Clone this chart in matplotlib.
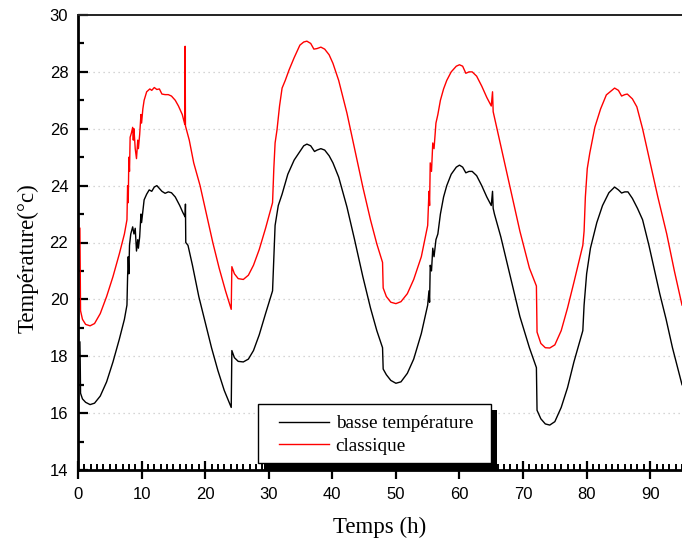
import matplotlib
matplotlib.use("Agg")
import matplotlib.pyplot as plt
from matplotlib.patches import Rectangle
from matplotlib.ticker import MultipleLocator

# =====================
# data
# =====================
t_basse = [0.3, 0.35, 0.4, 0.7, 1.2, 1.9, 2.6, 3.5, 4.5, 5.5, 6.5, 7.3, 7.7, 7.8, 7.9, 8.0, 8.1, 8.3, 8.6, 8.8,
           9.0, 9.2, 9.4, 9.5, 9.7, 9.9, 10.0, 10.2, 10.4, 10.8, 11.2, 11.6, 12.0, 12.4, 12.8, 13.2, 13.7, 14.2, 14.7, 15.3,
           16.0, 16.5, 16.85, 16.9, 16.95, 17.3, 18.0, 19.0, 20.0, 21.0, 22.0, 23.0, 24.1, 24.2, 24.6, 25.2, 26.0, 26.8, 27.6, 28.5,
           29.5, 30.6, 30.8, 31.0, 31.5, 32.1, 33.0, 34.0, 34.9, 35.5, 36.0, 36.6, 37.2, 37.6, 38.2, 38.8, 39.5, 40.1, 41.0, 42.3,
           43.5, 44.8, 46.0, 47.0, 47.9, 48.0, 48.5, 49.2, 50.0, 50.8, 51.8, 52.8, 54.0, 55.0, 55.2, 55.3, 55.4, 55.6, 55.8, 56.0,
           56.3, 56.6, 57.0, 57.5, 58.0, 58.7, 59.5, 60.0, 60.5, 61.0, 61.5, 62.0, 62.7, 63.5, 64.3, 65.0, 65.2, 65.3, 65.5, 66.5,
           68.0, 69.5, 71.0, 72.1, 72.2, 72.8, 73.5, 74.2, 75.0, 76.0, 77.0, 78.0, 79.4, 79.6, 80.0, 80.6, 81.6, 82.5, 83.5, 84.4,
           85.0, 85.5, 86.0, 86.5, 87.2, 88.0, 88.8, 89.8, 90.8, 91.5, 92.5, 93.5, 94.3, 95.0]
T_basse = [18.5, 17.8, 16.7, 16.5, 16.38, 16.3, 16.35, 16.6, 17.1, 17.8, 18.6, 19.3, 19.8, 20.8, 21.5, 20.9, 21.9, 22.3, 22.55, 22.3,
           22.5, 21.7, 22.1, 21.8, 22.2, 23.0, 22.7, 23.1, 23.5, 23.7, 23.85, 23.8, 23.95, 24.0, 23.9, 23.8, 23.73, 23.78, 23.75, 23.6,
           23.3, 23.05, 22.9, 23.35, 22.0, 21.9, 21.2, 20.1, 19.2, 18.3, 17.5, 16.8, 16.2, 18.2, 17.95, 17.82, 17.8, 17.9, 18.2, 18.75,
           19.5, 20.3, 21.5, 22.6, 23.3, 23.7, 24.4, 24.9, 25.2, 25.4, 25.46, 25.4, 25.2, 25.25, 25.3, 25.25, 25.05, 24.8, 24.3, 23.25,
           22.1, 20.8, 19.7, 18.9, 18.3, 17.55, 17.35, 17.15, 17.05, 17.1, 17.4, 17.9, 18.8, 19.8, 20.3, 19.9, 21.2, 21.0, 21.8, 21.5,
           22.1, 22.3, 23.0, 23.6, 24.0, 24.4, 24.65, 24.72, 24.65, 24.45, 24.5, 24.5, 24.35, 24.0, 23.6, 23.3, 23.8, 23.2, 23.0, 22.2,
           20.8, 19.4, 18.3, 17.6, 16.1, 15.8, 15.62, 15.58, 15.7, 16.2, 16.9, 17.8, 18.9, 19.8, 20.9, 21.8, 22.7, 23.3, 23.75, 23.95,
           23.85, 23.74, 23.78, 23.78, 23.55, 23.2, 22.8, 21.9, 20.9, 20.2, 19.3, 18.3, 17.6, 17.0]

t_classique = [0.3, 0.35, 0.4, 0.7, 1.2, 1.9, 2.6, 3.5, 4.5, 5.5, 6.5, 7.3, 7.7, 7.8, 7.9, 8.0, 8.1, 8.2, 8.4, 8.6,
               8.7, 8.8, 9.0, 9.2, 9.4, 9.5, 9.7, 9.9, 10.0, 10.2, 10.4, 10.8, 11.3, 11.6, 12.0, 12.4, 12.8, 13.2, 13.7, 14.2,
               14.7, 15.3, 15.8, 16.4, 16.8, 16.85, 16.9, 17.5, 18.2, 19.2, 20.2, 21.2, 22.2, 23.2, 24.1, 24.2, 24.6, 25.2, 26.0, 26.8,
               27.6, 28.5, 29.5, 30.6, 30.8, 31.0, 31.3, 31.7, 32.1, 32.6, 33.2, 34.0, 34.9, 35.5, 36.0, 36.6, 37.1, 37.6, 38.2, 38.8,
               39.5, 40.1, 41.0, 42.3, 43.5, 44.8, 46.0, 47.0, 47.9, 48.0, 48.5, 49.2, 50.0, 50.8, 51.8, 52.8, 54.0, 55.0, 55.2, 55.3,
               55.4, 55.6, 55.8, 56.0, 56.3, 56.6, 57.0, 57.5, 58.0, 58.7, 59.5, 60.0, 60.5, 61.0, 61.5, 62.0, 62.7, 63.5, 64.3, 65.0,
               65.2, 65.3, 65.5, 66.5, 68.0, 69.5, 71.0, 72.1, 72.2, 72.8, 73.5, 74.2, 75.0, 76.0, 77.0, 78.0, 79.4, 79.6, 79.8, 80.1,
               80.5, 81.3, 82.2, 83.1, 84.4, 85.0, 85.5, 86.0, 86.4, 87.2, 87.9, 88.8, 89.9, 91.2, 92.6, 93.8, 95.0]
T_classique = [22.5, 21.0, 19.6, 19.3, 19.12, 19.07, 19.15, 19.5, 20.1, 20.8, 21.6, 22.3, 22.8, 24.0, 23.4, 25.0, 24.5, 25.7, 25.85, 26.05,
               25.6, 26.0, 25.3, 24.95, 25.6, 25.3, 25.8, 26.5, 26.2, 26.7, 27.0, 27.3, 27.4, 27.35, 27.45, 27.38, 27.4, 27.22, 27.2, 27.2,
               27.15, 27.0, 26.8, 26.5, 26.15, 28.9, 26.1, 25.6, 24.8, 24.0, 23.0, 22.0, 21.1, 20.3, 19.65, 21.15, 20.9, 20.73, 20.7, 20.85,
               21.2, 21.75, 22.5, 23.4, 24.6, 25.5, 25.96, 26.8, 27.43, 27.7, 28.07, 28.5, 28.94, 29.05, 29.08, 29.0, 28.8, 28.82, 28.87, 28.8,
               28.6, 28.3, 27.7, 26.55, 25.3, 23.95, 22.8, 21.95, 21.3, 20.4, 20.1, 19.9, 19.85, 19.92, 20.2, 20.7, 21.5, 22.6, 23.8, 23.3,
               24.8, 24.5, 25.5, 25.3, 26.2, 26.5, 27.0, 27.4, 27.7, 28.0, 28.2, 28.25, 28.2, 27.95, 28.0, 28.0, 27.85, 27.5, 27.1, 26.8,
               27.3, 26.6, 26.4, 25.4, 23.9, 22.4, 21.1, 20.47, 18.85, 18.45, 18.3, 18.29, 18.4, 18.9, 19.7, 20.6, 21.9, 22.4, 23.6, 24.6,
               25.15, 26.06, 26.7, 27.19, 27.43, 27.35, 27.15, 27.2, 27.22, 27.05, 26.77, 26.0, 24.9, 23.6, 22.3, 21.0, 19.8]

labels = ["basse température", "classique"]
x_ticks = [0, 10, 20, 30, 40, 50, 60, 70, 80, 90]
y_ticks = [14, 16, 18, 20, 22, 24, 26, 28, 30]

# =====================
# figure
# =====================
fig = plt.figure(figsize=(6.82, 5.42), dpi=100)
ax = fig.add_axes([78 / 682, 1 - 470 / 542, 604 / 682, 455 / 542])

ax.plot(t_basse, T_basse, color="black", lw=1.0, label=labels[0])
ax.plot(t_classique, T_classique, color="#ff0000", lw=1.0, label=labels[1])

ax.set_xlim(0, 95)
ax.set_ylim(14, 30)
ax.set_xticks(x_ticks)
ax.set_yticks(y_ticks)
ax.xaxis.set_minor_locator(MultipleLocator(1))
ax.yaxis.set_minor_locator(MultipleLocator(1))

# grille horizontale pointillée
for y in y_ticks[1:-1]:
    ax.axhline(y, color="#c8c8c8", lw=0.9, ls=(0, (1, 3)), zorder=0)

ax.spines["right"].set_visible(False)
ax.spines["left"].set_linewidth(2.0)
ax.spines["bottom"].set_linewidth(2.0)
ax.spines["top"].set_linewidth(1.4)
ax.spines["top"].set_color("#222222")

ax.tick_params(axis="y", which="major", direction="in", length=7, width=1.6, pad=7, labelsize=12)
ax.tick_params(axis="y", which="minor", direction="in", length=4, width=1.6)
ax.tick_params(axis="x", which="major", direction="inout", length=13, width=1.6, pad=5.5, labelsize=12)
ax.tick_params(axis="x", which="minor", direction="in", length=4.5, width=1.4)
for lab in ax.get_xticklabels() + ax.get_yticklabels():
    lab.set_fontfamily("Liberation Sans")

ax.set_xlabel("Temps (h)", fontsize=16.5, family="Liberation Serif", labelpad=11)
ax.set_ylabel("Température(°c)", fontsize=16.5, family="Liberation Serif", labelpad=8)
ax.yaxis.label.set_y(0.465)

# légende : cadre + ombre noire
shadow = Rectangle((0.3079, 0.0), 0.3858, 0.1319, transform=ax.transAxes,
                   facecolor="black", edgecolor="none", zorder=4, clip_on=False)
frame = Rectangle((0.298, 0.01538), 0.3858, 0.1297, transform=ax.transAxes,
                  facecolor="white", edgecolor="black", lw=1.0, zorder=4.5)
ax.add_patch(shadow)
ax.add_patch(frame)
leg = ax.legend(loc="upper left", bbox_to_anchor=(0.3328, 0.1209),
                prop={"family": "Liberation Serif", "size": 13.8}, frameon=False,
                handlelength=2.6, handletextpad=0.35, borderpad=0, labelspacing=0.25,
                borderaxespad=0)
leg.set_zorder(5)

fig.savefig("out.png", dpi=100)
